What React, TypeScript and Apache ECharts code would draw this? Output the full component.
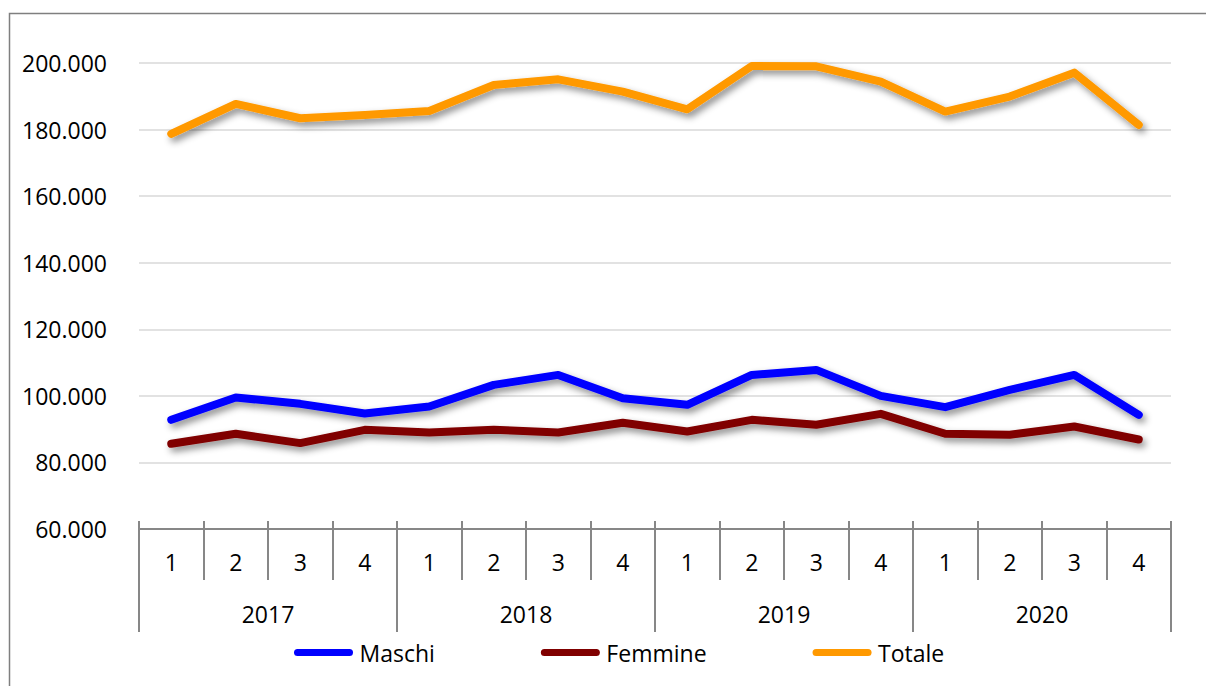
import React, { useEffect, useRef } from "react";
import * as echarts from "echarts";

const quarterLabels = ["1", "2", "3", "4", "1", "2", "3", "4", "1", "2", "3", "4", "1", "2", "3", "4"];
const yearLabels = ["2017", "2018", "2019", "2020"];
const maschi = [92800, 99500, 97600, 94700, 96800, 103300, 106300, 99300, 97300, 106300, 107800, 100000, 96600, 101800, 106300, 94300];
const femmine = [85600, 88600, 85800, 89800, 89000, 89800, 89000, 91900, 89300, 92800, 91300, 94600, 88600, 88300, 90800, 86900];
const totale = [178700, 187700, 183400, 184400, 185600, 193400, 195100, 191400, 186100, 199100, 199000, 194400, 185400, 189900, 197100, 181400];
const seriesNames = ["Maschi", "Femmine", "Totale"];
const seriesColors = ["#0000FF", "#800000", "#FF9900"];

const FONT = "'Open Sans', 'Noto Sans', sans-serif";
const AXIS_GRAY = "#878787";

function fmt(v: number): string {
  return String(v).replace(/\B(?=(\d{3})+(?!\d))/g, ".");
}

export default function App() {
  const ref = useRef<HTMLDivElement>(null);
  useEffect(() => {
    if (!ref.current) return;
    const chart = echarts.init(ref.current, undefined, { renderer: "svg" });
    const values = [maschi, femmine, totale];
    const capsule = "path://M3.5,0 H55.5 A3.5,3.5 0 0 1 55.5,7 H3.5 A3.5,3.5 0 0 1 3.5,0 Z";
    chart.setOption({
      animation: false,
      backgroundColor: "#ffffff",
      textStyle: { fontFamily: FONT },
      graphic: [
        {
          type: "rect",
          shape: { x: 9.5, y: 13.5, width: 1220, height: 700 },
          style: { fill: "none", stroke: "#7f7f7f", lineWidth: 1.5 },
          silent: true,
        },
      ],
      grid: { left: 139, right: 35, top: 63, bottom: 157, containLabel: false },
      legend: {
        data: seriesNames.map((n) => ({ name: n, icon: capsule })),
        left: 289,
        top: 636,
        itemWidth: 60,
        itemHeight: 7,
        itemGap: 106,
        textStyle: { fontFamily: FONT, fontSize: 23, color: "#000", padding: [0, 0, 0, 1] },
      },
      xAxis: [
        {
          type: "category",
          data: quarterLabels,
          position: "bottom",
          boundaryGap: true,
          axisLine: { show: true, lineStyle: { color: AXIS_GRAY, width: 2 } },
          axisTick: { show: true, interval: 0, length: 51, lineStyle: { color: AXIS_GRAY, width: 2 } },
          axisLabel: { interval: 0, margin: 21, fontSize: 23, color: "#000", fontFamily: FONT },
          splitLine: { show: false },
        },
        {
          type: "category",
          data: yearLabels,
          position: "bottom",
          boundaryGap: true,
          axisLine: { show: false },
          axisTick: { show: true, interval: 0, length: 103, lineStyle: { color: AXIS_GRAY, width: 2 } },
          axisLabel: { interval: 0, margin: 73, fontSize: 23, color: "#000", fontFamily: FONT },
          splitLine: { show: false },
        },
        {
          type: "category",
          data: quarterLabels,
          position: "bottom",
          boundaryGap: true,
          axisLine: { show: false },
          axisTick: { show: true, inside: true, interval: 0, length: 8, lineStyle: { color: AXIS_GRAY, width: 2 } },
          axisLabel: { show: false },
          splitLine: { show: false },
        },
      ],
      yAxis: {
        type: "value",
        min: 60000,
        max: 200000,
        interval: 20000,
        axisLine: { show: false },
        axisTick: { show: false },
        axisLabel: { margin: 32, fontSize: 23, color: "#000", fontFamily: FONT, formatter: (v: number) => fmt(v) },
        splitLine: { show: true, lineStyle: { color: "#d9d9d9", width: 1.5 } },
      },
      series: seriesNames.map((name, i) => ({
        name,
        type: "line",
        xAxisIndex: 0,
        data: values[i],
        symbol: "none",
        smooth: false,
        color: seriesColors[i],
        lineStyle: {
          color: seriesColors[i],
          width: 8,
          cap: "round",
          join: "round",
          shadowColor: "rgba(0,0,0,0.45)",
          shadowBlur: 7,
          shadowOffsetX: 3,
          shadowOffsetY: 4,
        },
      })),
    });
    return () => chart.dispose();
  }, []);
  return (
    <div
      ref={ref}
      style={{ position: "fixed", left: 0, top: 0, width: 1206, height: 686 }}
    />
  );
}
